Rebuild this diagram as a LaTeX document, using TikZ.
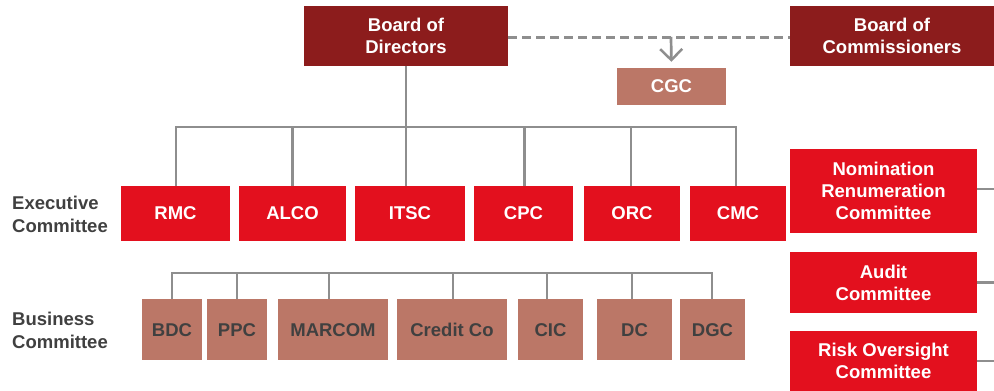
\documentclass[tikz,border=0pt]{standalone}
\usepackage{fontspec}
\setmainfont{Liberation Sans}
\usetikzlibrary{arrows.meta}
\definecolor{darkred}{HTML}{8C1C1C}
\definecolor{brightred}{HTML}{E3101E}
\definecolor{salmon}{HTML}{BB7767}
\definecolor{txtgray}{HTML}{404040}
\definecolor{linegray}{HTML}{8E8E8E}
\tikzset{
  box/.style={rectangle, inner sep=0pt, align=center, font=\fontsize{18.5}{22}\selectfont\bfseries},
  boardbox/.style={box, fill=darkred, text=white},
  execbox/.style={box, fill=brightred, text=white, minimum height=55pt},
  busbox/.style={box, fill=salmon, text=txtgray, minimum height=61pt, text height=13.3pt, text depth=0pt},
  cgcbox/.style={box, fill=salmon, text=white},
  rowlabel/.style={inner sep=0pt, align=left, anchor=west, text=txtgray, font=\fontsize{18.5}{22.5}\selectfont\bfseries},
  conn/.style={draw=linegray, line width=2.7pt},
  dashconn/.style={draw=linegray, line width=3pt, dash pattern=on 9pt off 5pt},
}
\begin{document}
\begin{tikzpicture}[x=1pt,y=-1pt]
\useasboundingbox (0,0) rectangle (994,391);
% top
\node[boardbox, minimum width=204pt, minimum height=60pt] (bod) at (406,36) {Board of\\Directors};
\node[boardbox, minimum width=204pt, minimum height=60pt] (boc) at (892,36) {Board of\\Commissioners};
\node[cgcbox, minimum width=109pt, minimum height=37pt] (cgc) at (671.5,86.5) {CGC};
% right committees
\node[execbox, minimum width=187pt, minimum height=84pt] (nrc) at (883.5,191) {Nomination\\Renumeration\\Committee};
\node[execbox, minimum width=187pt, minimum height=61pt] (aud) at (883.5,282.5) {Audit\\Committee};
\node[execbox, minimum width=187pt, minimum height=60pt] (roc) at (883.5,361) {Risk Oversight\\Committee};
% executive row
\node[rowlabel] (exlab) at (12,214.5) {Executive\\Committee};
\node[execbox, minimum width=109pt] (rmc) at (175.5,213.5) {RMC};
\node[execbox, minimum width=107pt] (alco) at (292.5,213.5) {ALCO};
\node[execbox, minimum width=110pt] (itsc) at (410,213.5) {ITSC};
\node[execbox, minimum width=99pt] (cpc) at (523.5,213.5) {CPC};
\node[execbox, minimum width=96pt] (orc) at (632,213.5) {ORC};
\node[execbox, minimum width=96pt] (cmc) at (738,213.5) {CMC};
% business row
\node[rowlabel] (buslab) at (12,330.5) {Business\\Committee};
\node[busbox, minimum width=60pt] (bdc) at (172,329.5) {BDC};
\node[busbox, minimum width=60pt] (ppc) at (237,329.5) {PPC};
\node[busbox, minimum width=110pt] (marcom) at (333,329.5) {MARCOM};
\node[busbox, minimum width=110pt] (credit) at (452,329.5) {Credit Co};
\node[busbox, minimum width=65pt] (cic) at (550.5,329.5) {CIC};
\node[busbox, minimum width=75pt] (dc) at (634.5,329.5) {DC};
\node[busbox, minimum width=65pt] (dgc) at (712.5,329.5) {DGC};
% coordinates
\coordinate (exl) at (176,127);
\coordinate (exr) at (736,127);
\coordinate (busl) at (172,273);
\coordinate (busr) at (712,273);
\coordinate (arrtop) at (671,37);
\coordinate (nrcend) at (994,189);
\coordinate (audend) at (994,282.5);
\coordinate (rocend) at (994,361);
% dashed link and arrow
\draw[dashconn] (bod.east |- arrtop) -- (boc.west |- arrtop);
\draw[conn, -{Straight Barb[length=11pt,width=22pt,line width=2.5pt]}, shorten >=6pt] (arrtop) -- (cgc.north);
% executive tree
\draw[conn] (bod.south) -- (bod.south |- exl);
\draw[conn, line cap=rect] (exl) -- (exr);
\draw[conn] (exl) -- (rmc.north -| exl);
\draw[conn] (alco.north |- exl) -- (alco.north);
\draw[conn] (bod.south |- exl) -- (bod.south |- itsc.north);
\draw[conn] ([xshift=1pt]cpc.north |- exl) -- ([xshift=1pt]cpc.north);
\draw[conn] ([xshift=-1pt]orc.north |- exl) -- ([xshift=-1pt]orc.north);
\draw[conn] (exr) -- (exr |- cmc.north);
% business tree
\draw[conn, line cap=rect] (busl) -- (busr);
\draw[conn] (busl) -- (bdc.north);
\draw[conn] (ppc.north |- busl) -- (ppc.north);
\draw[conn] ([xshift=-4pt]marcom.north |- busl) -- ([xshift=-4pt]marcom.north);
\draw[conn] ([xshift=1pt]credit.north |- busl) -- ([xshift=1pt]credit.north);
\draw[conn] ([xshift=-3.5pt]cic.north |- busl) -- ([xshift=-3.5pt]cic.north);
\draw[conn] ([xshift=-2.5pt]dc.north |- busl) -- ([xshift=-2.5pt]dc.north);
\draw[conn] (busr) -- (busr |- dgc.north);
% right stubs
\draw[conn] (nrc.east |- nrcend) -- (nrcend);
\draw[conn] (aud.east) -- (audend);
\draw[conn] (roc.east) -- (rocend);
\end{tikzpicture}
\end{document}
